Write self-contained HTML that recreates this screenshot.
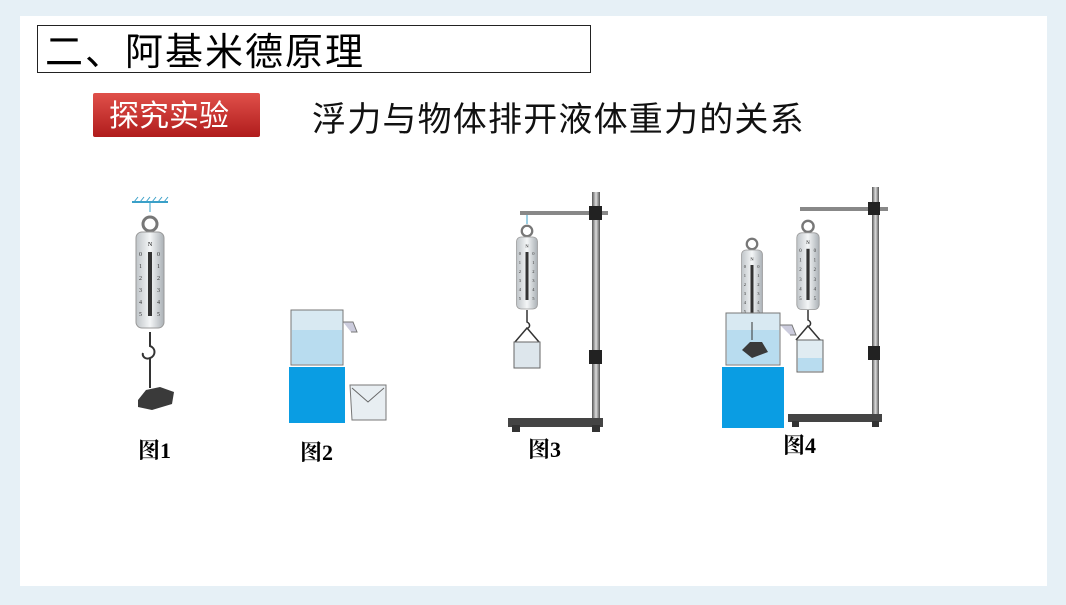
<!DOCTYPE html><html><head><meta charset="utf-8"><style>body{margin:0;width:1066px;height:600px;overflow:hidden;background:#e6f0f6}</style></head><body>
<svg width="1066" height="600" xmlns="http://www.w3.org/2000/svg" font-family="Liberation Sans, Noto Sans CJK SC, sans-serif">
<defs>
<linearGradient id="red" x1="0" y1="0" x2="0" y2="1"><stop offset="0" stop-color="#e0504a"/><stop offset="1" stop-color="#b01c1c"/></linearGradient>
<linearGradient id="metal" x1="0" y1="0" x2="1" y2="0"><stop offset="0" stop-color="#bfc4c8"/><stop offset=".5" stop-color="#f4f6f7"/><stop offset="1" stop-color="#aab0b5"/></linearGradient>
<linearGradient id="pole" x1="0" y1="0" x2="1" y2="0"><stop offset="0" stop-color="#555"/><stop offset=".5" stop-color="#ddd"/><stop offset="1" stop-color="#555"/></linearGradient>
<g id="scale">
<circle cx="0" cy="-12" r="7" fill="none" stroke="#777" stroke-width="3"/>
<rect x="-14" y="-4" width="28" height="96" rx="6" fill="url(#metal)" stroke="#999"/>
<text x="0" y="10" font-size="6" text-anchor="middle" font-family="Liberation Serif">N</text>
<rect x="-2" y="16" width="4" height="64" fill="#333"/>
<g font-size="6" font-family="Liberation Serif" fill="#333"><text x="-11" y="20">0</text><text x="-11" y="32">1</text><text x="-11" y="44">2</text><text x="-11" y="56">3</text><text x="-11" y="68">4</text><text x="-11" y="80">5</text><text x="7" y="20">0</text><text x="7" y="32">1</text><text x="7" y="44">2</text><text x="7" y="56">3</text><text x="7" y="68">4</text><text x="7" y="80">5</text></g>
</g>
</defs>
<rect x="20" y="16" width="1027" height="570" fill="#fff"/>
<rect x="37.5" y="25.5" width="553" height="47" fill="#fff" stroke="#222"/>
<text x="45" y="65" font-size="38" letter-spacing="2">二、阿基米德原理</text>
<rect x="93" y="93" width="167" height="44" fill="url(#red)" rx="2"/>
<text x="109" y="126" font-size="30" fill="#fff">探究实验</text>
<text x="312" y="131" font-size="34" letter-spacing="1.2" fill="#111">浮力与物体排开液体重力的关系</text>
<!-- fig1 -->
<line x1="132" y1="202" x2="168" y2="202" stroke="#3aa0c8" stroke-width="2"/>
<path d="M134 202l4-5M140 202l4-5M146 202l4-5M152 202l4-5M158 202l4-5M164 202l4-5" stroke="#3aa0c8"/>
<line x1="150" y1="202" x2="150" y2="212" stroke="#3aa0c8"/>
<use href="#scale" x="150" y="236"/>
<path d="M150 332v14c6 2 6 10 0 12c-5 2-8-2-7-5M150 358v30" stroke="#333" stroke-width="2" fill="none"/>
<path d="M138 400l8-10 14-3 14 5 -2 12 -20 6 -14-3z" fill="#3a3a3a"/>
<!-- fig2 -->
<rect x="291" y="310" width="52" height="55" fill="#d8e9f2" stroke="#777"/>
<rect x="292" y="330" width="50" height="34" fill="#b8dcef"/>
<path d="M343 322h10l4 10h-6" fill="#ccd" stroke="#777"/>
<rect x="289" y="367" width="56" height="56" fill="#0a9de3"/>
<path d="M350 385h36v35h-34z" fill="#e8eef2" stroke="#777"/>
<path d="M352 388l16 14 16-14" fill="none" stroke="#666"/>
<text x="138" y="458" font-size="22" font-weight="bold" font-family="Liberation Serif, Noto Serif CJK SC, serif">图1</text>
<text x="300" y="460" font-size="22" font-weight="bold" font-family="Liberation Serif, Noto Serif CJK SC, serif">图2</text>
<!-- fig3 -->
<rect x="592" y="192" width="8" height="233" fill="url(#pole)"/>
<rect x="508" y="418" width="95" height="9" fill="#444"/>
<rect x="512" y="425" width="8" height="7" fill="#333"/><rect x="592" y="425" width="8" height="7" fill="#333"/>
<rect x="520" y="211" width="88" height="4" fill="#888"/>
<rect x="589" y="206" width="13" height="14" fill="#222"/>
<rect x="589" y="350" width="13" height="14" fill="#222"/>
<line x1="527" y1="215" x2="527" y2="224" stroke="#3aa0c8"/>
<g transform="translate(527,240) scale(0.75)"><use href="#scale"/></g>
<path d="M527 310v12c4 2 3 7-1 6M527 328l-12 14M527 328l12 14" stroke="#333" fill="none" stroke-width="1.5"/>
<path d="M514 342h26v26h-26z" fill="#dde6ec" stroke="#666"/>
<text x="528" y="457" font-size="22" font-weight="bold" font-family="Liberation Serif, Noto Serif CJK SC, serif">图3</text>
<!-- fig4 -->
<rect x="872" y="187" width="7" height="235" fill="url(#pole)"/>
<rect x="788" y="414" width="94" height="8" fill="#444"/>
<rect x="792" y="421" width="7" height="6" fill="#333"/><rect x="872" y="421" width="7" height="6" fill="#333"/>
<rect x="800" y="207" width="88" height="4" fill="#888"/>
<rect x="868" y="202" width="12" height="13" fill="#222"/>
<rect x="868" y="346" width="12" height="14" fill="#222"/>
<g transform="translate(808,236) scale(0.8)"><use href="#scale"/></g>
<path d="M808 310v10c4 2 3 7-1 6M808 326l-12 14M808 326l12 14" stroke="#333" fill="none" stroke-width="1.5"/>
<path d="M797 340h26v32h-26z" fill="#e0ecf2" stroke="#666"/>
<rect x="798" y="358" width="24" height="13" fill="#b8dcef"/>
<g transform="translate(752,253) scale(0.75)"><use href="#scale"/></g>
<rect x="726" y="313" width="54" height="52" fill="#d8e9f2" stroke="#777"/>
<rect x="727" y="330" width="52" height="34" fill="#b8dcef"/>
<path d="M780 325h12l4 10h-6" fill="#ccd" stroke="#777"/>
<path d="M752 322v18" stroke="#333"/>
<path d="M742 350l8-8 12 0 6 10-16 6z" fill="#3a3a3a"/>
<rect x="722" y="367" width="62" height="61" fill="#0a9de3"/>
<text x="783" y="453" font-size="22" font-weight="bold" font-family="Liberation Serif, Noto Serif CJK SC, serif">图4</text>
</svg></body></html>
